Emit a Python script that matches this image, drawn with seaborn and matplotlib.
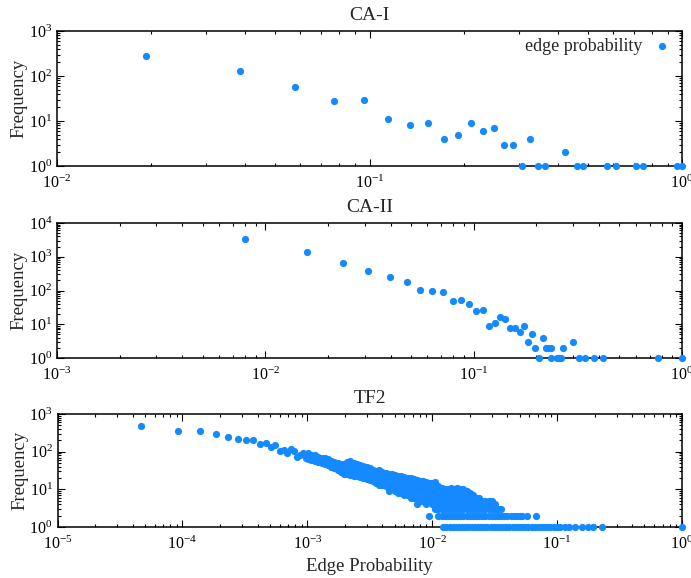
import matplotlib
matplotlib.use("Agg")
import matplotlib.pyplot as plt
import matplotlib.ticker as mticker
import numpy as np
import pandas as pd
import seaborn as sns

# ---------------- data ----------------
ca1_prob = [0.0192, 0.0385, 0.0577, 0.0769, 0.0962, 0.115, 0.135, 0.154, 0.173, 0.192,
            0.212, 0.231, 0.25, 0.269, 0.288, 0.308, 0.327, 0.346, 0.365, 0.423,
            0.462, 0.481, 0.577, 0.615, 0.712, 0.75, 0.962, 1.0]
ca1_freq = [278, 129, 56, 28, 29, 11, 8, 9, 4, 5,
            9, 6, 7, 3, 3, 1, 4, 1, 1, 2,
            1, 1, 1, 1, 1, 1, 1, 1]

ca2_prob = [0.0080, 0.0158, 0.0237, 0.0312, 0.0397, 0.0477, 0.0554, 0.0633, 0.0715, 0.0793,
            0.0873, 0.095, 0.103, 0.111, 0.119, 0.127, 0.134, 0.142, 0.150, 0.158,
            0.166, 0.174, 0.182, 0.190, 0.198, 0.206, 0.214, 0.222, 0.228, 0.234,
            0.236, 0.252, 0.258, 0.262, 0.269, 0.300, 0.322, 0.341, 0.380, 0.419,
            0.767, 1.0]
ca2_freq = [3350, 1350, 667, 378, 246, 179, 106, 94, 92, 50,
            52, 39, 25, 26, 9, 11, 16, 14, 8, 8,
            6, 9, 3, 5, 2, 1, 4, 2, 2, 2,
            1, 1, 1, 1, 2, 3, 1, 1, 1, 1,
            1, 1]

# TF2: (edge probability, [frequencies observed at that probability])
tf2_columns = [
    (4.63e-5, [490]), (9.26e-5, [360]), (1.39e-4, [360]), (1.85e-4, [294]),
    (2.32e-4, [240]), (2.78e-4, [221]), (3.24e-4, [200]), (3.70e-4, [200]),
    (4.17e-4, [157]), (4.63e-4, [173]), (5.09e-4, [135]), (5.56e-4, [150]),
    (6.02e-4, [102]), (6.48e-4, [111]), (6.94e-4, [94]), (7.41e-4, [116]),
    (7.87e-4, [106]), (8.33e-4, [73]), (8.80e-4, [80]), (9.26e-4, [94, 85]),
    (9.72e-4, [78, 70]),
    (1.02e-3, [90, 75, 64]), (1.08e-3, [82, 68, 60]), (1.15e-3, [80, 66, 58]),
    (1.22e-3, [74, 60, 54]), (1.30e-3, [70, 58, 50]), (1.38e-3, [66, 54, 46]),
    (1.46e-3, [62, 50, 44]), (1.55e-3, [58, 48, 40]), (1.65e-3, [52, 44, 36]),
    (1.75e-3, [50, 40, 32]), (1.86e-3, [48, 38, 31, 28]), (1.97e-3, [46, 38, 30, 26]),
    (2.09e-3, [54, 44, 34, 26]), (2.20e-3, [56, 46, 36, 28, 24]),
    (2.35e-3, [50, 40, 32, 26, 22]), (2.50e-3, [46, 36, 28, 22]),
    (2.65e-3, [44, 34, 26, 21]), (2.80e-3, [42, 32, 25, 20]),
    (3.00e-3, [38, 30, 24, 19]), (3.15e-3, [36, 28, 22, 18]),
    (3.35e-3, [33, 26, 21, 17]), (3.55e-3, [31, 24, 19, 15]),
    (3.75e-3, [32, 26, 20, 15, 13]), (4.00e-3, [29, 22, 17, 13]),
    (4.25e-3, [27, 21, 16, 12]), (4.50e-3, [26, 20, 15, 11, 9]),
    (4.75e-3, [25, 18, 14, 10]), (5.05e-3, [24, 18, 13, 9]),
    (5.35e-3, [23, 17, 12, 9, 8]), (5.65e-3, [22, 16, 12, 8]),
    (6.00e-3, [21, 15, 11, 8, 7]), (6.35e-3, [20, 14, 10, 7]),
    (6.75e-3, [20, 14, 10, 7, 6]), (7.15e-3, [19, 13, 9, 7, 6]),
    (7.55e-3, [18, 13, 9, 6, 4]), (8.00e-3, [17, 12, 9, 6, 5]),
    (8.50e-3, [17, 12, 8, 6, 5]), (9.00e-3, [16, 11, 8, 6, 4]),
    (9.50e-3, [15, 10, 7, 5, 2]), (1.00e-2, [15, 11, 8, 6, 5, 4]),
    (1.06e-2, [16, 12, 8, 6, 5, 4, 3]), (1.12e-2, [12, 9, 7, 5, 4, 3, 2]),
    (1.19e-2, [11, 8, 6, 5, 4, 3, 2]), (1.26e-2, [10, 8, 6, 5, 4, 3, 2]),
    (1.33e-2, [10, 7, 6, 5, 4, 3, 2]), (1.41e-2, [11, 8, 6, 5, 4, 3, 2]),
    (1.50e-2, [10, 7, 6, 5, 4, 3, 2]), (1.59e-2, [11, 8, 6, 5, 4, 3, 2]),
    (1.68e-2, [10, 7, 6, 5, 4, 3, 2]), (1.78e-2, [10, 8, 6, 5, 4, 3, 2]),
    (1.89e-2, [9, 7, 6, 5, 4, 3, 2]), (2.00e-2, [8, 6, 5, 4, 3, 2]),
    (2.12e-2, [7, 5, 4, 3, 2]), (2.25e-2, [6, 5, 4, 3, 2]),
    (2.38e-2, [6, 4, 3, 2]), (2.52e-2, [5, 4, 3, 2]), (2.67e-2, [5, 4, 3, 2]),
    (2.83e-2, [5, 4, 3, 2]), (3.00e-2, [5, 4, 3, 2]), (3.18e-2, [4, 3, 2]),
    (3.37e-2, [3, 2]), (3.57e-2, [3, 2]), (3.78e-2, [2]), (4.00e-2, [2]),
    (4.24e-2, [2]), (4.50e-2, [2]), (4.76e-2, [2]), (5.05e-2, [2]),
    (5.20e-2, [2]), (5.78e-2, [2]), (6.75e-2, [2]),
]
tf2_ones = [1.23e-2, 1.30e-2, 1.38e-2, 1.46e-2, 1.55e-2, 1.64e-2, 1.74e-2, 1.84e-2,
            1.95e-2, 2.07e-2, 2.19e-2, 2.32e-2, 2.46e-2, 2.61e-2, 2.76e-2, 2.93e-2,
            3.10e-2, 3.29e-2, 3.48e-2, 3.69e-2, 3.91e-2, 4.15e-2, 4.40e-2, 4.66e-2,
            4.94e-2, 5.24e-2, 5.55e-2, 5.88e-2, 6.24e-2, 6.61e-2, 7.00e-2, 7.42e-2,
            7.87e-2, 8.34e-2, 8.84e-2, 9.37e-2, 9.93e-2, 0.105, 0.115, 0.125,
            0.140, 0.157, 0.177, 0.194, 0.227, 1.0]

tf2_prob = [x for x, ys in tf2_columns for _ in ys] + tf2_ones
tf2_freq = [y for x, ys in tf2_columns for y in ys] + [1] * len(tf2_ones)

titles = ["CA-I", "CA-II", "TF2"]
xlims = [(1e-2, 1), (1e-3, 1), (1e-5, 1)]
ylims = [(1, 1e3), (1, 1e4), (1, 1e3)]

# ---------------- style ----------------
sns.set_theme(style="ticks")
plt.rcParams["font.family"] = ["Liberation Serif", "DejaVu Serif"]
plt.rcParams["mathtext.fontset"] = "custom"
plt.rcParams["mathtext.rm"] = "Liberation Serif"
plt.rcParams["mathtext.default"] = "regular"

COLOR = "#1589ff"
TICK_FS = 11.5
LABEL_FS = 13.5
TITLE_FS = 14
LEG_FS = 13

fig = plt.figure(figsize=(6.91, 5.78), dpi=100)
W, H = 691, 578
boxes = [(57, 31, 682, 166), (57, 223, 682, 358), (57.5, 414, 682, 527)]
axes = []
for (l, t, r, b) in boxes:
    axes.append(fig.add_axes([l / W, 1 - b / H, (r - l) / W, (b - t) / H]))

datasets = [
    pd.DataFrame({"Edge Probability": ca1_prob, "Frequency": ca1_freq}),
    pd.DataFrame({"Edge Probability": ca2_prob, "Frequency": ca2_freq}),
    pd.DataFrame({"Edge Probability": tf2_prob, "Frequency": tf2_freq}),
]

for i, (ax, df) in enumerate(zip(axes, datasets)):
    sns.scatterplot(data=df, x="Edge Probability", y="Frequency", ax=ax,
                    color=COLOR, s=27, linewidth=0, clip_on=False, zorder=5,
                    label="edge probability" if i == 0 else None, legend=(i == 0))
    ax.set_xscale("log")
    ax.set_yscale("log")
    ax.set_xlim(*xlims[i])
    ax.set_ylim(*ylims[i])
    ax.xaxis.set_major_locator(mticker.LogLocator(base=10, numticks=20))
    ax.xaxis.set_minor_locator(mticker.LogLocator(base=10, subs=np.arange(2, 10), numticks=20))
    ax.yaxis.set_major_locator(mticker.LogLocator(base=10, numticks=20))
    ax.yaxis.set_minor_locator(mticker.LogLocator(base=10, subs=np.arange(2, 10), numticks=20))
    ax.xaxis.set_minor_formatter(mticker.NullFormatter())
    ax.yaxis.set_minor_formatter(mticker.NullFormatter())
    ax.tick_params(which="both", direction="in", top=True, right=True,
                   labelsize=TICK_FS, colors="black", width=0.8)
    ax.tick_params(which="major", length=5)
    ax.tick_params(axis="x", which="major", pad=6)
    ax.tick_params(axis="y", which="major", pad=3.5)
    ax.tick_params(which="minor", length=2.5)
    for sp in ax.spines.values():
        sp.set_visible(True)
        sp.set_linewidth(1.1)
        sp.set_color("black")
    ax.set_title(titles[i], fontsize=TITLE_FS, pad=8)
    ax.set_ylabel("Frequency", fontsize=LABEL_FS)
    ax.yaxis.set_label_coords(-0.047, 0.5)
    if i == 2:
        ax.set_xlabel("Edge Probability", fontsize=LABEL_FS, labelpad=4)
    else:
        ax.set_xlabel("")
    ax.grid(False)

leg = axes[0].legend(loc="upper right", frameon=False, markerfirst=False,
                     fontsize=LEG_FS, handletextpad=0.4, borderaxespad=0.1,
                     borderpad=0.3, handlelength=1.4, markerscale=1.0)

fig.savefig("out.png", dpi=100)
